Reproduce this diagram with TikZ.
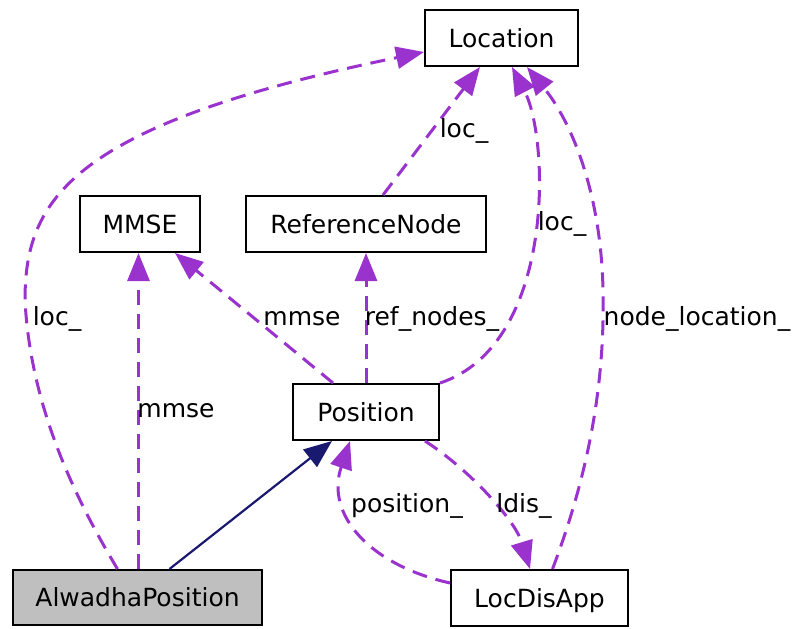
\documentclass[tikz,border=0pt]{standalone}
\usepackage{fontspec}
\setmainfont{DejaVu Sans}
\usetikzlibrary{arrows.meta}
\definecolor{edgepurple}{HTML}{9A32CD}
\definecolor{edgenavy}{HTML}{191970}
\definecolor{focusgrey}{HTML}{BFBFBF}
\begin{document}
\begin{tikzpicture}[x=0.5pt,y=-0.5pt,
  every node/.style={font=\fontsize{12.5}{15}\selectfont},
  classbox/.style={draw=black, line width=1pt, fill=white, inner sep=0pt,
    minimum height=28pt, text height=9pt, text depth=0pt},
  member/.style={draw=edgepurple, line width=1.5pt, dash pattern=on 7.5pt off 4.5pt,
    -{Triangle[length=14pt,width=11pt]}},
  inherit/.style={draw=edgenavy, line width=1.1pt, -{Triangle[length=14pt,width=11pt]}},
  elabel/.style={anchor=base, inner sep=0pt}]
\useasboundingbox (0,0) rectangle (793,628);

% classes
\node[classbox, minimum width=76.5pt] (loc) at (501.5,38) {Location};
\node[classbox, minimum width=60pt] (mmse) at (140,224) {MMSE};
\node[classbox, minimum width=120pt] (refn) at (366,224) {ReferenceNode};
\node[classbox, minimum width=73pt] (pos) at (366,412) {Position};
\node[classbox, minimum width=124.5pt, minimum height=27.5pt, fill=focusgrey] (alw) at (137.5,597.5) {AlwadhaPosition};
\node[classbox, minimum width=88.5pt] (lda) at (539.5,598) {LocDisApp};

% bends of the curved connectors
\coordinate (locbend) at (25,300);
\coordinate (nlbend) at (603,290);

% AlwadhaPosition
\draw[member] ([xshift=-10pt]alw.north) .. controls (70,490) and (30,400) .. (locbend)
  .. controls (25,200) and (70,125) .. ([yshift=-7pt]loc.west);
\draw[member] ([xshift=0.5pt]alw.north) -- ([xshift=0.5pt]alw.north |- mmse.south);
\draw[inherit] ([xshift=16pt]alw.north) -- ([xshift=-17pt]pos.south);

% Position
\draw[member] ([xshift=-16.5pt]pos.north) -- ([xshift=17.5pt]mmse.south);
\draw[member] (pos.north) -- (refn.south);
\draw[member] (pos.north east) .. controls (555,345) and (550,140) .. ([xshift=5.25pt]loc.south);
\draw[member] ([xshift=29.5pt]pos.south) .. controls (470,470) and (515,520) .. ([xshift=-4.75pt]lda.north);

% ReferenceNode
\draw[member] ([xshift=8.5pt]refn.north) -- ([xshift=-10.75pt]loc.south);

% LocDisApp
\draw[member] ([xshift=6.5pt]lda.north) .. controls (590,470) and (605,380) .. (nlbend)
  .. controls (601,190) and (570,120) .. ([xshift=12.75pt]loc.south);
\draw[member] ([yshift=7.5pt]lda.west) .. controls (370,565) and (325,515) .. ([xshift=-8pt]pos.south);

% member names
\node[elabel] (t1) at (57,325) {loc\_};
\node[elabel] (t2) at (176,417) {mmse};
\node[elabel] (t3) at (302,325) {mmse};
\node[elabel] (t4) at (432,325) {ref\_nodes\_};
\node[elabel] (t5) at (464,137) {loc\_};
\node[elabel] (t6) at (562,230) {loc\_};
\node[elabel] (t7) at (697,325) {node\_location\_};
\node[elabel] (t8) at (407,512) {position\_};
\node[elabel] (t9) at (524,512) {ldis\_};
\end{tikzpicture}
\end{document}
